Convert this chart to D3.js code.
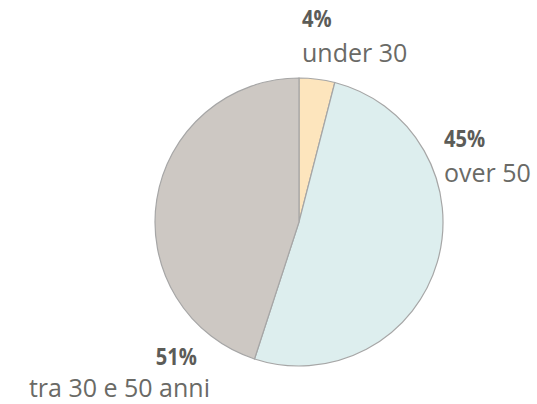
<!DOCTYPE html>
<html>
<head>
<meta charset="utf-8">
<script src="https://cdn.jsdelivr.net/npm/d3@7"></script>
<style>
  html, body { margin: 0; padding: 0; background: #fff; }
  svg text { font-family: 'Open Sans', sans-serif; }
</style>
</head>
<body>
<svg id="chart" width="537" height="404"></svg>
<script>
// slices, clockwise from 12 o'clock
const categories = ['under 30', 'tra 30 e 50 anni', 'over 50']
const values = [4, 51, 45]
const colors = ['#fde5bd', '#ddeeee', '#cdc8c3']

// labels as printed on the chart
const labelPct = ['4%', '45%', '51%']
const labelText = ['under 30', 'over 50', 'tra 30 e 50 anni']

const cx = 299
const cy = 222
const radius = 144

const svg = d3.select('#chart')
const root = svg.append('g').attr('transform', `translate(${cx},${cy})`)

const pie = d3.pie().sort(null).value(d => d)
const arc = d3.arc().innerRadius(0).outerRadius(radius)

root.selectAll('path')
  .data(pie(values))
  .join('path')
  .attr('d', arc)
  .attr('fill', (d, i) => colors[i])
  .attr('stroke', '#a6a6a6')
  .attr('stroke-width', 1.2)

// label anchors relative to the centre
const labelPos = [
  { x: 3, y: -195, dy: 35, dx: 0, anchor: 'start' },
  { x: 145, y: -75, dy: 35, dx: 0, anchor: 'start' },
  { x: -102, y: 143, dy: 32, dx: 13, anchor: 'end' }
]

labelPct.forEach((pct, i) => {
  const p = labelPos[i]
  const g = root.append('g').attr('transform', `translate(${p.x},${p.y})`)
  // condensed bold look
  g.append('text')
    .attr('transform', 'scale(0.84,1)')
    .attr('text-anchor', p.anchor)
    .attr('fill', '#5c5c58')
    .attr('font-size', '24px')
    .attr('font-weight', 700)
    .text(pct)
  g.append('text')
    .attr('x', p.dx)
    .attr('y', p.dy)
    .attr('text-anchor', p.anchor)
    .attr('fill', '#6a6a66')
    .attr('font-size', '25px')
    .text(labelText[i])
})
</script>
</body>
</html>
